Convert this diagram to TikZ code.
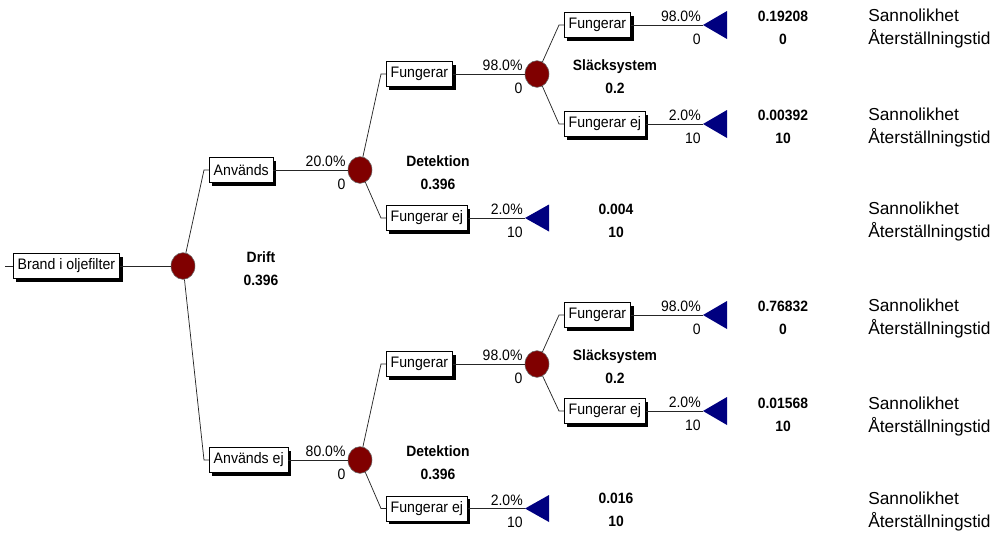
\documentclass[tikz,border=0pt]{standalone}
\usepackage{fontspec}
\setmainfont{Liberation Sans}
\newfontfamily\narrowsans[FakeStretch=0.93]{Liberation Sans}
\usetikzlibrary{calc,shapes.geometric,shadows}
\definecolor{chancered}{RGB}{128,0,0}
\definecolor{leafblue}{RGB}{0,0,128}
\begin{document}
\begin{tikzpicture}[x=0.75pt,y=-0.75pt,
  branch/.style={draw=black!85, line width=0.55pt},
  optbox/.style={draw=black, line width=0.5pt, fill=white, inner xsep=3.3pt,
    inner ysep=0pt, minimum height=18.75pt, anchor=west,
    font=\narrowsans\fontsize{11.4}{13}\selectfont,
    drop shadow={shadow xshift=2.25pt, shadow yshift=-2.25pt, fill=black, opacity=1}},
  chance/.style={ellipse, draw=black!60, line width=0.4pt, fill=chancered,
    minimum width=18pt, minimum height=20pt, inner sep=0pt},
  pct/.style={font=\narrowsans\fontsize{11.3}{13}\selectfont, inner sep=0pt, anchor=base east},
  stat/.style={font=\narrowsans\bfseries\fontsize{11.2}{13}\selectfont, inner sep=0pt, anchor=base},
  outcome/.style={font=\fontsize{13}{15}\selectfont, inner sep=0pt, anchor=base west},
  leaf/.style={fill=leafblue},
]
\useasboundingbox (0,0) rectangle (994,533);

% ---------- root ----------
\coordinate (rootin) at (5,266);
\node[optbox] (root) at (13,266) {Brand i oljefilter};
\draw[branch] (rootin) -- (root.west);
\node[chance] (c0) at (183,266) {};
\draw[branch] (root.east) -- (c0);
\node[stat] (driftn) at (261,262.5) {Drift};
\node[stat] (driftv) at (261,285) {0.396};

% ---------- upper: Används ----------
\node[optbox] (used) at (209,170) {Används};
\draw[branch] (c0) -- ($(used.west)+(-5,0)$) -- (used.west);
\node[chance] (c1) at (360,170) {};
\draw[branch] (used.east) -- (c1);
\node[pct] (c1p) at ($(c1.west)+(-2,-3.5)$) {20.0\%};
\node[pct] (c1v) at ($(c1.west)+(-2,19)$) {0};
\node[stat] (det1n) at (438,166.5) {Detektion};
\node[stat] (det1v) at (438,189.5) {0.396};

\node[optbox] (f1) at (386,74) {Fungerar};
\draw[branch] (c1) -- ($(f1.west)+(-5,0)$) -- (f1.west);
\node[optbox] (fe1) at (386,218) {Fungerar ej};
\draw[branch] (c1) -- ($(fe1.west)+(-5,0)$) -- (fe1.west);

\node[chance] (c2) at (537,74) {};
\draw[branch] (f1.east) -- (c2);
\node[pct] (c2p) at ($(c2.west)+(-2,-3.5)$) {98.0\%};
\node[pct] (c2v) at ($(c2.west)+(-2,19)$) {0};
\node[stat] (sl1n) at (615,70.5) {Släcksystem};
\node[stat] (sl1v) at (615,93.5) {0.2};

\coordinate (te1) at (525,218);
\draw[branch] (fe1.east) -- (te1);
\fill[leaf] (te1) -- ++(24,-13.5) -- ++(0,27) -- cycle;
\node[pct] (te1p) at ($(te1)+(-2,-3.5)$) {2.0\%};
\node[pct] (te1v) at ($(te1)+(-2,19)$) {10};
\node[stat] (te1a) at (616,214) {0.004};
\node[stat] (te1b) at (616,237.5) {10};
\node[outcome] (te1s) at (868,214) {Sannolikhet};
\node[outcome] (te1t) at (868,237.5) {Återställningstid};

\node[optbox] (f2) at (564,25) {Fungerar};
\draw[branch] (c2) -- ($(f2.west)+(-5,0)$) -- (f2.west);
\node[optbox] (fe2) at (564,124) {Fungerar ej};
\draw[branch] (c2) -- ($(fe2.west)+(-5,0)$) -- (fe2.west);

\coordinate (t1) at (703,25);
\draw[branch] (f2.east) -- (t1);
\fill[leaf] (t1) -- ++(24,-14) -- ++(0,28) -- cycle;
\node[pct] (t1p) at ($(t1)+(-2,-3.5)$) {98.0\%};
\node[pct] (t1v) at ($(t1)+(-2,19)$) {0};
\node[stat] (t1a) at (783,21) {0.19208};
\node[stat] (t1b) at (783,44.5) {0};
\node[outcome] (t1s) at (868,21) {Sannolikhet};
\node[outcome] (t1t) at (868,44.5) {Återställningstid};

\coordinate (t2) at (703,124);
\draw[branch] (fe2.east) -- (t2);
\fill[leaf] (t2) -- ++(24,-14) -- ++(0,28) -- cycle;
\node[pct] (t2p) at ($(t2)+(-2,-3.5)$) {2.0\%};
\node[pct] (t2v) at ($(t2)+(-2,19)$) {10};
\node[stat] (t2a) at (783,120) {0.00392};
\node[stat] (t2b) at (783,143.5) {10};
\node[outcome] (t2s) at (868,120) {Sannolikhet};
\node[outcome] (t2t) at (868,143.5) {Återställningstid};

% ---------- lower: Används ej ----------
\node[optbox] (unused) at (209,460) {Används ej};
\draw[branch] (c0) -- ($(unused.west)+(-5,0)$) -- (unused.west);
\node[chance] (c1b) at (360,460) {};
\draw[branch] (unused.east) -- (c1b);
\node[pct] (c1bp) at ($(c1b.west)+(-2,-3.5)$) {80.0\%};
\node[pct] (c1bv) at ($(c1b.west)+(-2,19)$) {0};
\node[stat] (det2n) at (438,456.5) {Detektion};
\node[stat] (det2v) at (438,479.5) {0.396};

\node[optbox] (f3) at (386,364) {Fungerar};
\draw[branch] (c1b) -- ($(f3.west)+(-5,0)$) -- (f3.west);
\node[optbox] (fe3) at (386,508.5) {Fungerar ej};
\draw[branch] (c1b) -- ($(fe3.west)+(-5,0)$) -- (fe3.west);

\node[chance] (c2b) at (537,364) {};
\draw[branch] (f3.east) -- (c2b);
\node[pct] (c2bp) at ($(c2b.west)+(-2,-3.5)$) {98.0\%};
\node[pct] (c2bv) at ($(c2b.west)+(-2,19)$) {0};
\node[stat] (sl2n) at (615,360.5) {Släcksystem};
\node[stat] (sl2v) at (615,383.5) {0.2};

\coordinate (te2) at (525,508.5);
\draw[branch] (fe3.east) -- (te2);
\fill[leaf] (te2) -- ++(24,-13.5) -- ++(0,27) -- cycle;
\node[pct] (te2p) at ($(te2)+(-2,-3.5)$) {2.0\%};
\node[pct] (te2v) at ($(te2)+(-2,19)$) {10};
\node[stat] (te2a) at (616,503) {0.016};
\node[stat] (te2b) at (616,526.5) {10};
\node[outcome] (te2s) at (868,504) {Sannolikhet};
\node[outcome] (te2t) at (868,527.5) {Återställningstid};

\node[optbox] (f4) at (564,315) {Fungerar};
\draw[branch] (c2b) -- ($(f4.west)+(-5,0)$) -- (f4.west);
\node[optbox] (fe4) at (564,411) {Fungerar ej};
\draw[branch] (c2b) -- ($(fe4.west)+(-5,0)$) -- (fe4.west);

\coordinate (t3) at (703,315);
\draw[branch] (f4.east) -- (t3);
\fill[leaf] (t3) -- ++(24,-14) -- ++(0,28) -- cycle;
\node[pct] (t3p) at ($(t3)+(-2,-3.5)$) {98.0\%};
\node[pct] (t3v) at ($(t3)+(-2,19)$) {0};
\node[stat] (t3a) at (783,311) {0.76832};
\node[stat] (t3b) at (783,334.5) {0};
\node[outcome] (t3s) at (868,311) {Sannolikhet};
\node[outcome] (t3t) at (868,334.5) {Återställningstid};

\coordinate (t4) at (703,411);
\draw[branch] (fe4.east) -- (t4);
\fill[leaf] (t4) -- ++(24,-14) -- ++(0,28) -- cycle;
\node[pct] (t4p) at ($(t4)+(-2,-3.5)$) {2.0\%};
\node[pct] (t4v) at ($(t4)+(-2,19)$) {10};
\node[stat] (t4a) at (783,408) {0.01568};
\node[stat] (t4b) at (783,431.5) {10};
\node[outcome] (t4s) at (868,409) {Sannolikhet};
\node[outcome] (t4t) at (868,432.5) {Återställningstid};
\end{tikzpicture}
\end{document}
